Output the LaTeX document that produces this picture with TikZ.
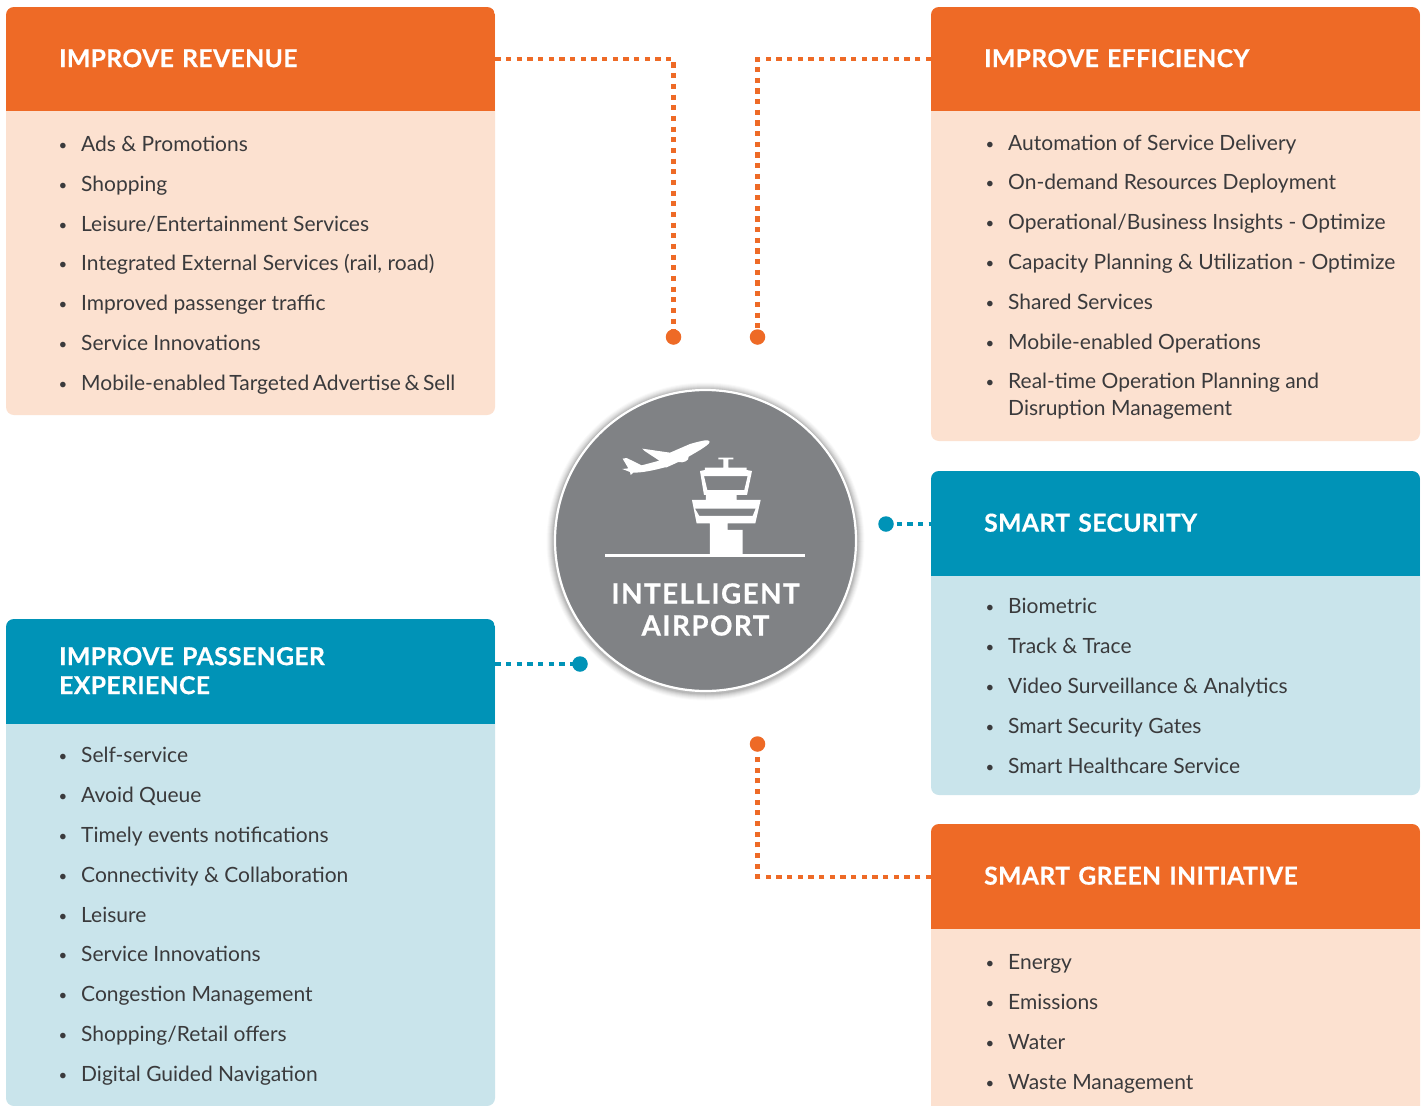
\documentclass[tikz,border=0pt]{standalone}
\usepackage{fontspec}
\setmainfont{Lato}
\newfontfamily\hdfont[LetterSpace=1.6,FakeBold=0.5]{Lato Bold}
\newfontfamily\ctrfont[LetterSpace=5.2,FakeBold=0.6]{Lato Bold}
\definecolor{orng}{HTML}{EE6A26}
\definecolor{peach}{HTML}{FCE1D0}
\definecolor{tealb}{HTML}{0093B7}
\definecolor{paleb}{HTML}{C9E4EB}
\definecolor{ink}{HTML}{3A3A3C}
\definecolor{hubgrey}{HTML}{808285}
\tikzset{
  x=1pt,y=-1pt,
  hdr/.style={anchor=north west,minimum width=489pt,text width=383pt,inner xsep=53pt,inner ysep=0pt,align=left,text=white,
    font=\hdfont\fontsize{24.7}{29}\selectfont},
  card/.style={rounded corners=8pt},
  itm/.style={anchor=base west,inner sep=0pt,text=ink,font=\fontsize{21}{26}\selectfont},
  bul/.style={anchor=base,inner sep=0pt,text=ink,font=\fontsize{15}{26}\selectfont},
  link/.style={line width=4.4pt,dash pattern=on 5.2pt off 5.47pt},
  enddot/.style={circle,inner sep=0pt,minimum size=15.5pt,fill=#1},
}
% #1 name, #2 left, #3 top, #4 header bottom, #5 card bottom, #6 header colour, #7 body colour, #8 title
\newcommand{\cardbox}[8]{%
  \fill[card,#7] (#2,#3) rectangle (#2+489,#5);
  \begin{scope}
    \clip[card] (#2,#3) rectangle (#2+489,#5);
    \node[hdr,fill=#6,minimum height=#4pt-#3pt+2pt] (#1) at (#2,#3-2) {#8};
  \end{scope}}
% #1 name, #2 text left, #3 centre y, #4 text
\newcommand{\itemline}[4]{%
  \node[bul] (#1b) at (#2-18,#3+7) {•};
  \node[itm] (#1) at (#2,#3+8) {#4};}
\newcommand{\contline}[4]{\node[itm] (#1) at (#2,#3+8) {#4};}
\begin{document}
\begin{tikzpicture}
\useasboundingbox (0,0) rectangle (1428,1106);
\fill[white] (0,0) rectangle (1428,1106);

\cardbox{rev}{6}{7}{111}{415}{orng}{peach}{IMPROVE REVENUE}
\cardbox{eff}{931}{7}{111}{441}{orng}{peach}{IMPROVE EFFICIENCY}
\cardbox{sec}{931}{471}{576}{795}{tealb}{paleb}{SMART SECURITY}
\cardbox{pax}{6}{619}{724}{1106}{tealb}{paleb}{IMPROVE PASSENGER\\EXPERIENCE}
\cardbox{grn}{931}{824}{929}{1130}{orng}{peach}{SMART GREEN INITIATIVE}

\itemline{r1}{81}{143}{Ads \& Promotions}
\itemline{r2}{81}{183}{Shopping}
\itemline{r3}{81}{223}{Leisure/Entertainment Services}
\itemline{r4}{81}{262}{Integrated External Services (rail, road)}
\itemline{r5}{81}{302}{Improved passenger traffic}
\itemline{r6}{81}{342}{Service Innovations}
\itemline{r7}{81}{382}{\spaceskip=0.17em plus 0.1em Mobile-enabled Targeted Advertise \& Sell}

\itemline{e1}{1008}{142}{Automation of Service Delivery}
\itemline{e2}{1008}{181}{On-demand Resources Deployment}
\itemline{e3}{1008}{221}{Operational/Business Insights - Optimize}
\itemline{e4}{1008}{261}{Capacity Planning \& Utilization - Optimize}
\itemline{e5}{1008}{301}{Shared Services}
\itemline{e6}{1008}{341}{Mobile-enabled Operations}
\itemline{e7}{1008}{380}{Real-time Operation Planning and}
\contline{e8}{1008}{407}{Disruption Management}

\itemline{s1}{1008}{605}{Biometric}
\itemline{s2}{1008}{645}{Track \& Trace}
\itemline{s3}{1008}{685}{Video Surveillance \& Analytics}
\itemline{s4}{1008}{725}{Smart Security Gates}
\itemline{s5}{1008}{765}{Smart Healthcare Service}

\itemline{p1}{81}{754}{Self-service}
\itemline{p2}{81}{794}{Avoid Queue}
\itemline{p3}{81}{834}{Timely events notifications}
\itemline{p4}{81}{874}{Connectivity \& Collaboration}
\itemline{p5}{81}{914}{Leisure}
\itemline{p6}{81}{953}{Service Innovations}
\itemline{p7}{81}{993}{Congestion Management}
\itemline{p8}{81}{1033}{Shopping/Retail offers}
\itemline{p9}{81}{1073}{Digital Guided Navigation}

\itemline{g1}{1008}{961}{Energy}
\itemline{g2}{1008}{1001}{Emissions}
\itemline{g3}{1008}{1041}{Water}
\itemline{g4}{1008}{1081}{Waste Management}

% end dots
\node[enddot=orng] (dr) at (673.5,337) {};
\node[enddot=orng] (de) at (757.5,337) {};
\node[enddot=orng] (dg) at (757.5,744) {};
\node[enddot=tealb] (ds) at (886,524) {};
\node[enddot=tealb] (dp) at (580,664) {};

% connectors
\draw[link,orng] ([yshift=-1pt]rev.east) -| (dr.center);
\draw[link,orng] ([yshift=-1pt]eff.west) -| (de.center);
\draw[link,orng] ([yshift=-1pt]grn.west) -| (dg.center);
\draw[link,tealb] (ds.center) -- (ds.center -| sec.west);
\draw[link,tealb] (dp.center -| pax.east) -- (dp.center);

% hub
\foreach \r/\o in {159/0.02,158/0.03,157/0.03,156/0.04,155/0.05,154/0.06,153/0.07}
  \fill[black,opacity=\o] (705.5,541.5) circle[radius=\r];
\node[circle,fill=hubgrey,draw=white,line width=2.2pt,minimum size=301pt,inner sep=0pt] (hub) at (705.5,540.5) {};
\node[inner sep=0pt,text=white,align=center,font=\ctrfont\fontsize{27.8}{32}\selectfont] (hubt) at (705.5,609.5) {INTELLIGENT\\AIRPORT};

% ground line
\fill[white] (605,554) rectangle (805,557);
% tower and aeroplane (coordinates taken at three times scale)
\begin{scope}[shift={(600,430)},x=0.3333pt,y=-0.3333pt]
  \fill[white,even odd rule]
    (355,83) -- (400,83) -- (400,88) -- (385,88) -- (385,112) -- (370,112) -- (370,88) -- (355,88) -- cycle
    (315,113) -- (440,113) -- (440,120) -- (456,123) -- (441,195) -- (410,195) -- (410,210) -- (482,210)
      -- (466,280) -- (383,280) -- (383,300) -- (428,300) -- (428,375) -- (330,375) -- (330,280) -- (290,280)
      -- (276,210) -- (318,210) -- (318,195) -- (312,195) -- (300,123) -- (315,120) -- cycle
    (312,138) -- (443,138) -- (433,180) -- (322,180) -- cycle
    (285,236) -- (467,236) -- (458,258) -- (298,258) -- cycle;
  \fill[white] (329,35) .. controls (326,28) and (312,30) .. (270,42)
    -- (210,68) -- (127,56) -- (134,63) -- (178,92) -- (125,106) -- (80,84) -- (68,86) -- (85,115)
    -- (67,117) -- (90,126) -- (92,135) -- (100,128) .. controls (130,128) and (165,120) .. (195,112)
    -- (200,112) -- (235,96) .. controls (250,100) and (268,92) .. (266,80) -- (300,60)
    .. controls (315,50) and (329,42) .. (329,35) -- cycle;
\end{scope}
\end{tikzpicture}
\end{document}
